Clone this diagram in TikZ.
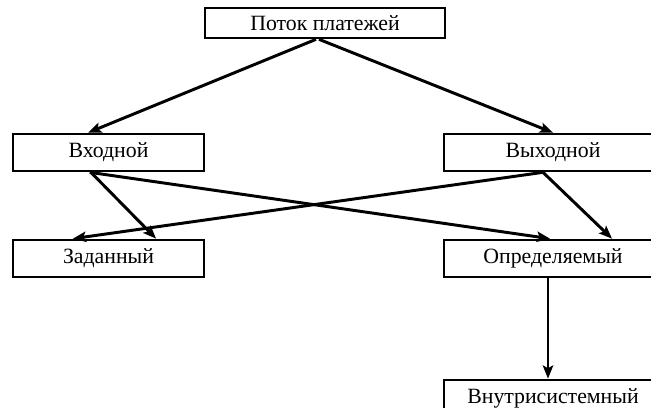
\documentclass[tikz,border=0pt]{standalone}
\usepackage{fontspec}
\setmainfont{Liberation Serif}
\usepackage{tikz}
\usetikzlibrary{arrows.meta}

\tikzset{
  box/.style={draw, line width=1.9pt, minimum height=0.925cm, inner sep=0pt, font=\fontsize{15.5}{18}\selectfont},
  flowarrow/.style={line width=2.1pt, -{Stealth[length=3.3mm, width=2.6mm, inset=0.7mm]}}
}

\begin{document}
\begin{tikzpicture}[scale=1.0]
  \useasboundingbox (0,0) rectangle (16.275,10.2);

  % Top level
  \node[box, minimum width=6cm, minimum height=0.75cm] (flow) at (8.125, 9.625) {Поток платежей};

  % Direction of payments
  \node[box, minimum width=4.775cm] (in) at (2.7125, 6.3875) {Входной};
  \node[box, minimum width=5.45cm] (out) at (13.825, 6.3875) {Выходной};

  % Kind of payments
  \node[box, minimum width=4.775cm] (given) at (2.7125, 3.7375) {Заданный};
  \node[box, minimum width=5.45cm] (determ) at (13.825, 3.7375) {Определяемый};
  \node[box, minimum width=5.45cm] (intra) at (13.825, 0.2375) {Внутрисистемный};

  % Connections
  \draw[flowarrow] ([xshift=-0.225cm]flow.south) -- ([xshift=-0.51cm]in.north);
  \draw[flowarrow] ([xshift=-0.15cm]flow.south) -- (out.north);
  \draw[flowarrow] ([xshift=-0.44cm]in.south) -- ([xshift=1.19cm]given.north);
  \draw[flowarrow] ([xshift=-0.47cm]in.south) -- ([xshift=-0.075cm]determ.north);
  \draw[flowarrow] ([xshift=-0.25cm]out.south) -- ([xshift=-0.89cm]given.north);
  \draw[flowarrow] ([xshift=-0.25cm]out.south) -- ([xshift=1.475cm]determ.north);
  \draw[flowarrow] ([xshift=-0.125cm]determ.south) -- ([xshift=-0.125cm]intra.north);
\end{tikzpicture}
\end{document}
